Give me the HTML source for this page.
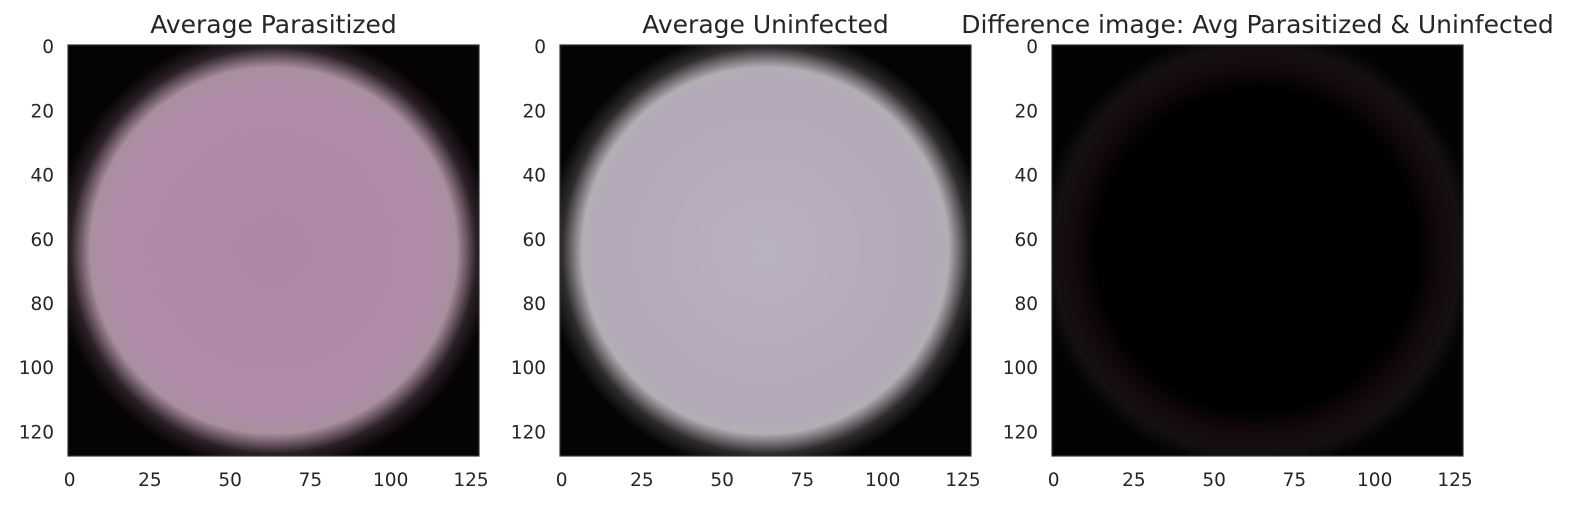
<!DOCTYPE html>
<html><head><meta charset="utf-8"><style>
body{margin:0;background:#fff;}
svg{display:block;font-family:"DejaVu Sans","Liberation Sans",sans-serif;}
</style></head><body>
<svg id="fig" width="1571" height="506" viewBox="0 0 1571 506">
<defs>
<radialGradient id="gP" cx="0.5" cy="0.5" r="0.707">
<stop offset="0" stop-color="#ad86a6"/><stop offset="0.56" stop-color="#b08ca9"/>
<stop offset="0.63" stop-color="#a98f9f"/><stop offset="0.7" stop-color="#2a1f25"/><stop offset="0.76" stop-color="#050304"/>
</radialGradient>
<radialGradient id="gU" cx="0.5" cy="0.5" r="0.707">
<stop offset="0" stop-color="#b9b0c1"/><stop offset="0.56" stop-color="#b2a8ba"/>
<stop offset="0.63" stop-color="#b3aeb4"/><stop offset="0.7" stop-color="#2e2b2d"/><stop offset="0.76" stop-color="#040404"/>
</radialGradient>
<radialGradient id="gD" cx="0.5" cy="0.5" r="0.707">
<stop offset="0" stop-color="#000"/><stop offset="0.55" stop-color="#000"/>
<stop offset="0.64" stop-color="#150910"/><stop offset="0.7" stop-color="#141012"/><stop offset="0.76" stop-color="#030303"/>
</radialGradient>
</defs>
</svg>
<script>
const panelTitles = ["Average Parasitized", "Average Uninfected", "Difference image: Avg Parasitized & Uninfected"];
const xTicks = [0, 25, 50, 75, 100, 125];
const yTicks = [0, 20, 40, 60, 80, 100, 120];
const fills = ["url(#gP)", "url(#gU)", "url(#gD)"];
const lefts = [68, 560, 1052];
const top0 = 45, size = 411, n = 128;
const ns = "http://www.w3.org/2000/svg";
const svg = document.getElementById('fig');
function mk(t, a){const e=document.createElementNS(ns,t);for(const k in a)e.setAttribute(k,a[k]);svg.appendChild(e);return e;}
panelTitles.forEach((title, i) => {
  const L = lefts[i];
  const sx = v => L + (v + 0.5) * size / n;
  const sy = v => top0 + (v + 0.5) * size / n;
  mk('rect',{x:L,y:top0,width:size,height:size,fill:'#000'});
  const img = mk('rect',{x:L,y:top0,width:size,height:size,fill:fills[i]});
  
  
  const fr = mk('rect',{x:L,y:top0,width:size,height:size,fill:'none',stroke:'#333',"stroke-width":1.2});
  
  
  const t = mk('text',{x:L+size/2,y:33,"text-anchor":"middle","font-size":25,fill:'#262626'});
  t.textContent = title;
  
  
  xTicks.forEach(v => {
    const e = mk('text',{x:sx(v),y:486,"text-anchor":"middle","font-size":18.5,fill:'#262626'});
    e.textContent = v;
    
    
  });
  yTicks.forEach(v => {
    const e = mk('text',{x:L-14,y:sy(v)+6.5,"text-anchor":"end","font-size":18.5,fill:'#262626'});
    e.textContent = v;
    
    
  });
});
</script>
</body></html>
